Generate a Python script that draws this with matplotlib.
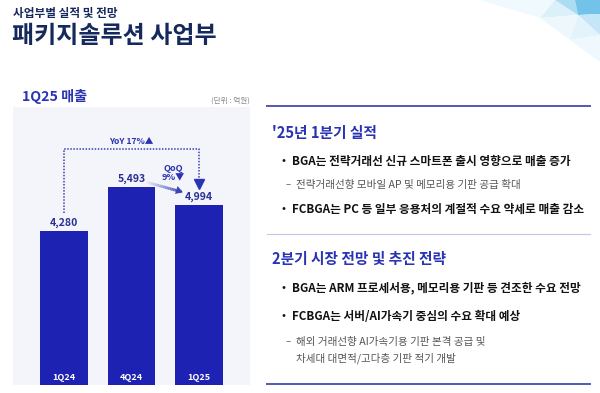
import numpy as np
import matplotlib
matplotlib.use('Agg')
import matplotlib.pyplot as plt
from matplotlib.collections import LineCollection
from matplotlib.colors import to_rgb
from matplotlib.patches import Polygon

plt.rcParams['font.family'] = ['Noto Sans CJK KR', 'DejaVu Sans']

quarters = ['1Q24', '4Q24', '1Q25']
sales = [4280, 5493, 4994]
yoy_label = 'YoY 17%▲'
qoq_label = 'QoQ\n9%▼'

title_small = '사업부별 실적 및 전망'
title_big = '패키지솔루션 사업부'
chart_title = '1Q25 매출'
unit_label = '(단위 : 억원)'

sec1_head = "'25년 1분기 실적"
sec1_lines = [
    ('bullet', 'BGA는 전략거래선 신규 스마트폰 출시 영향으로 매출 증가'),
    ('sub', '전략거래선향 모바일 AP 및 메모리용 기판 공급 확대'),
    ('bullet', 'FCBGA는 PC 등 일부 응용처의 계절적 수요 약세로 매출 감소'),
]
sec2_head = '2분기 시장 전망 및 추진 전략'
sec2_lines = [
    ('bullet', 'BGA는 ARM 프로세서용, 메모리용 기판 등 견조한 수요 전망'),
    ('bullet', 'FCBGA는 서버/AI가속기 중심의 수요 확대 예상'),
    ('sub', '해외 거래선향 AI가속기용 기판 본격 공급 및'),
    ('cont', '차세대 대면적/고다층 기판 적기 개발'),
]

W, H = 600, 393
NAVY = '#16295c'
BLUE = '#2a33b3'
BAR = '#1e22b2'

fig = plt.figure(figsize=(6.0, 3.93), dpi=100)
fig.patch.set_facecolor('white')


def px(x, y):
    return x / W, 1 - y / H


def ftext(x, y, s, **kw):
    fig.text(*px(x, y), s, va='center', ha=kw.pop('ha', 'left'), **kw)


# faint triangle decoration, top right corner
deco = [
    ([(480, 0), (555, 0), (540, 18)], '#f0f9fd'),
    ([(555, 0), (578, 15), (540, 18)], '#dcf0fa'),
    ([(540, 18), (578, 15), (570, 40)], '#eef8fc'),
    ([(555, 0), (575, 0), (578, 15)], '#acdcf2'),
    ([(575, 0), (600, 0), (600, 14), (578, 15)], '#72c2ea'),
    ([(578, 15), (600, 14), (600, 35)], '#c4e6f6'),
    ([(578, 15), (600, 35), (570, 40)], '#e2f3fb'),
    ([(570, 40), (600, 35), (600, 62)], '#eff8fc'),
]
for pts, col in deco:
    fig.add_artist(Polygon([px(a, b) for a, b in pts], closed=True,
                           facecolor=col, edgecolor='none', zorder=0))

# header
ftext(13, 13, title_small, fontsize=8.4, fontweight='bold', color=NAVY)
ftext(12, 36, title_big, fontsize=17.3, fontweight='bold', color=NAVY)
ftext(22, 96, chart_title, fontsize=10.2, fontweight='bold', color=BLUE)
ftext(250, 101, unit_label, fontsize=5.5, color='#888888', ha='right')

# bar chart panel
ax = fig.add_axes([13 / W, 1 - 385 / H, 237 / W, 278 / H])
ax.set_facecolor('#f3f5fa')
for s in ax.spines.values():
    s.set_visible(False)
ax.set_xticks([])
ax.set_yticks([])
x = np.arange(len(quarters))
ax.bar(x, sales, width=0.7, color=BAR, zorder=2)
ax.set_xlim(-0.755, 2.755)
ax.set_ylim(0, 7720)

for i, v in enumerate(sales):
    ax.text(i, v + 230, f'{v:,}', ha='center', va='center', fontsize=7.6,
            fontweight='bold', color='#2a3098', zorder=3)
    ax.text(i, 200, quarters[i], ha='center', va='center', fontsize=6.5,
            fontweight='bold', color='white', zorder=3)

# YoY bracket
top = max(sales) + 1060
dot = dict(color='#3b42b0', linestyle=(0, (1, 1)), linewidth=1.1, zorder=3)
ax.plot([0, 0, 2, 2], [sales[0] + 500, top, top, sales[2] + 720], **dot)
ax.plot(2, sales[2] + 600, marker='v', markersize=7, color='#2a33b3',
        linestyle='none', zorder=4)
ax.text(1, top + 200, yoy_label, ha='center', va='center', fontsize=6.2,
        fontweight='bold', color='#2a33b3')

# QoQ gradient arrow
x0, y0 = 1.24, sales[1] + 130
x1, y1 = 1.74, sales[2] + 370
n = 20
xs = np.linspace(x0, x1, n + 1)
ys = np.linspace(y0, y1, n + 1)
segs = [[(xs[k], ys[k]), (xs[k + 1], ys[k + 1])] for k in range(n)]
c0, c1 = np.array(to_rgb('#e2e5f4')), np.array(to_rgb('#3b45b3'))
cols = [c0 + (c1 - c0) * t for t in np.linspace(0, 1, n)]
ax.add_collection(LineCollection(segs, colors=cols, linewidths=2.0, zorder=3))
ax.annotate('', xy=(x1 + 0.06, y1 - 35), xytext=(x1 - 0.02, y1 + 15),
            arrowprops=dict(arrowstyle='-|>,head_length=0.5,head_width=0.3',
                            color='#3b45b3', lw=0), zorder=4)
ax.text(1.62, sales[2] + 880, qoq_label, ha='center', va='center',
        fontsize=6.6, fontweight='bold', color='#2a33b3', linespacing=1.05)

# right panel lines
fig.add_artist(plt.Line2D([267 / W, 590 / W], [1 - 106 / H] * 2,
                          color='#5558b4', linewidth=1.4))
fig.add_artist(plt.Line2D([267 / W, 590 / W], [1 - 234 / H] * 2,
                          color='#c5c6e6', linewidth=0.8))
fig.add_artist(plt.Line2D([267 / W, 590 / W], [1 - 384 / H] * 2,
                          color='#5558b4', linewidth=1.4))


def section(head, head_y, lines, ys):
    ftext(272, head_y, head, fontsize=10.6, fontweight='bold', color=BLUE)
    for (kind, txt), y in zip(lines, ys):
        if kind == 'bullet':
            ftext(282, y, '•', fontsize=7.5, fontweight='bold', color='#111111')
            ftext(292, y, txt, fontsize=8.4, fontweight='bold', color='#111111')
        elif kind == 'sub':
            ftext(286, y, '–', fontsize=7, color='#666666')
            ftext(296, y, txt, fontsize=7.6, color='#555555')
        else:
            ftext(296, y, txt, fontsize=7.6, color='#555555')


section(sec1_head, 133, sec1_lines, [161, 185, 209])
section(sec2_head, 259, sec2_lines, [288, 316, 342, 358])

fig.savefig('out.png', dpi=100)
